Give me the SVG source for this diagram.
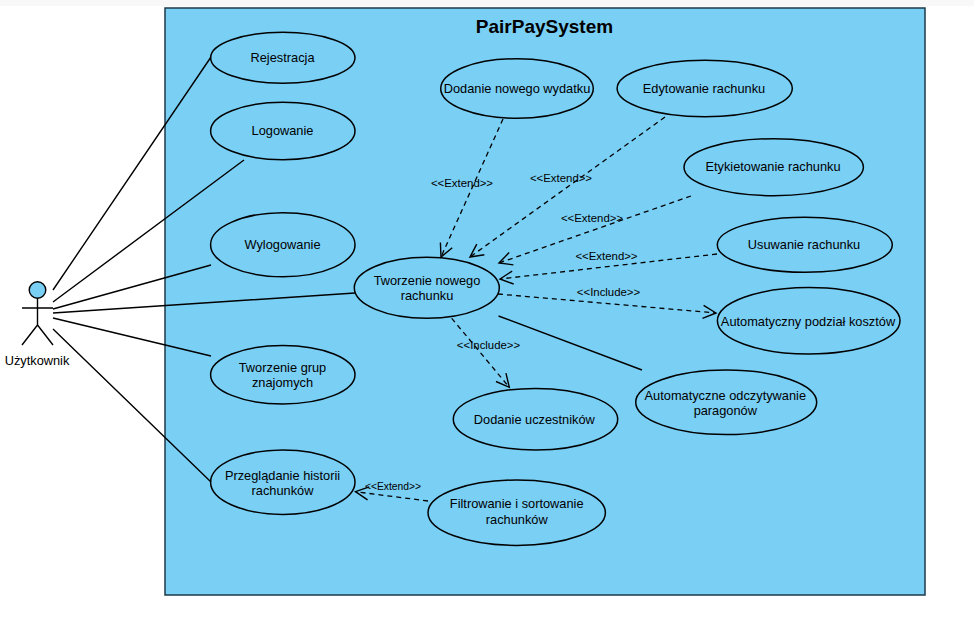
<svg xmlns="http://www.w3.org/2000/svg" width="974" height="623" viewBox="0 0 974 623">
<defs><marker id="a" markerWidth="18" markerHeight="18" refX="15" refY="9" orient="auto" markerUnits="userSpaceOnUse"><path d="M2 2.500L15 9L2 15.500" fill="none" stroke="#000" stroke-width="1.4"/></marker></defs>
<style>
text{font-family:"Liberation Sans",Arial,sans-serif;font-size:12.800px;fill:#000;text-anchor:middle}
.n ellipse{fill:#7acff5;stroke:#000;stroke-width:1.5}
.l{stroke:#000;stroke-width:1.4;fill:none}
.d{stroke:#000;stroke-width:1.3;fill:none;stroke-dasharray:5 4;marker-end:url(#a)}
.s text{font-size:11.400px}
</style>
<rect width="974" height="623" fill="#fff"/>
<rect width="974" height="6" fill="#f8f8f8"/>
<rect x="165" y="8" width="760" height="587" fill="#7acff5" stroke="#1d3a4a" stroke-width="1.5"/>
<text x="544.500" y="33" style="font-size:19px;font-weight:bold">PairPaySystem</text>
<g id="actor"><circle cx="37.500" cy="290" r="8.300" fill="#7acff5" stroke="#000" stroke-width="1.400"/><path class="l" d="M37.500 298V325M22 308H53M37.500 325L22 345M37.500 325L53 345"/><text x="37" y="365">Użytkownik</text></g>
<g class="n" id="rejestracja"><ellipse cx="282.800" cy="57.800" rx="72.200" ry="25.500"/><text x="282.500" y="62">Rejestracja</text></g>
<g class="n" id="logowanie"><ellipse cx="282.800" cy="131" rx="72.200" ry="28.700"/><text x="282.500" y="135">Logowanie</text></g>
<g class="n" id="wylogowanie"><ellipse cx="282.800" cy="244.700" rx="72.200" ry="32"/><text x="282.500" y="249">Wylogowanie</text></g>
<g class="n" id="grupy"><ellipse cx="282.800" cy="374.700" rx="72.200" ry="29.300"/><text x="282.500" y="372">Tworzenie grup</text><text x="282.500" y="387">znajomych</text></g>
<g class="n" id="historia"><ellipse cx="282.800" cy="482.200" rx="72.200" ry="32.200"/><text x="282.500" y="480">Przeglądanie historii</text><text x="282.500" y="495">rachunków</text></g>
<g class="n" id="wydatek"><ellipse cx="517" cy="88.500" rx="76.300" ry="29.800"/><text x="517" y="93">Dodanie nowego wydatku</text></g>
<g class="n" id="edycja"><ellipse cx="704.700" cy="88.500" rx="87.600" ry="28.200"/><text x="704" y="93">Edytowanie rachunku</text></g>
<g class="n" id="etykieta"><ellipse cx="773.700" cy="167.200" rx="89.700" ry="28.500"/><text x="773" y="171">Etykietowanie rachunku</text></g>
<g class="n" id="usuwanie"><ellipse cx="804.800" cy="244.800" rx="87.500" ry="27.500"/><text x="804" y="249">Usuwanie rachunku</text></g>
<g class="n" id="podzial"><ellipse cx="808.700" cy="320.800" rx="91.300" ry="33.200"/><text x="808" y="326">Automatyczny podział kosztów</text></g>
<g class="n" id="tworzenie"><ellipse cx="426.800" cy="287.800" rx="72.500" ry="30.500"/><text x="427" y="285">Tworzenie nowego</text><text x="427" y="300">rachunku</text></g>
<g class="n" id="paragony"><ellipse cx="726.200" cy="402.300" rx="90.500" ry="32.300"/><text x="725.300" y="400">Automatyczne odczytywanie</text><text x="725.300" y="415">paragonów</text></g>
<g class="n" id="uczestnicy"><ellipse cx="535.500" cy="419.200" rx="82.200" ry="30.800"/><text x="534.300" y="424">Dodanie uczestników</text></g>
<g class="n" id="filtrowanie"><ellipse cx="516.700" cy="512.700" rx="88.700" ry="32.700"/><text x="516.700" y="508">Filtrowanie i sortowanie</text><text x="516.700" y="524">rachunków</text></g>
<g id="connectors">
<path class="l" d="M53 290L211 57M53 302L244 160M53 309L211 265M53 313L355 293M53 318L211 356M53 329L211 482M498.500 316L642 370"/>
<path class="d" d="M503 119L441 257"/><path class="d" d="M665 117L470 257"/><path class="d" d="M691 196L499 263"/><path class="d" d="M717 254L500 279"/><path class="d" d="M498 294L716 313"/><path class="d" d="M451.700 318.300L509.300 387.300"/><path class="d" d="M428 501L355.500 491.700"/>
<g class="s"><text x="462" y="187">&lt;&lt;Extend&gt;&gt;</text><text x="561" y="182">&lt;&lt;Extend&gt;&gt;</text><text x="592" y="222">&lt;&lt;Extend&gt;&gt;</text><text x="606.500" y="260">&lt;&lt;Extend&gt;&gt;</text><text x="608.500" y="296">&lt;&lt;Include&gt;&gt;</text><text x="488.500" y="349">&lt;&lt;Include&gt;&gt;</text><text x="393" y="490" style="font-size:10.300px">&lt;&lt;Extend&gt;&gt;</text></g>
</g>
</svg>
